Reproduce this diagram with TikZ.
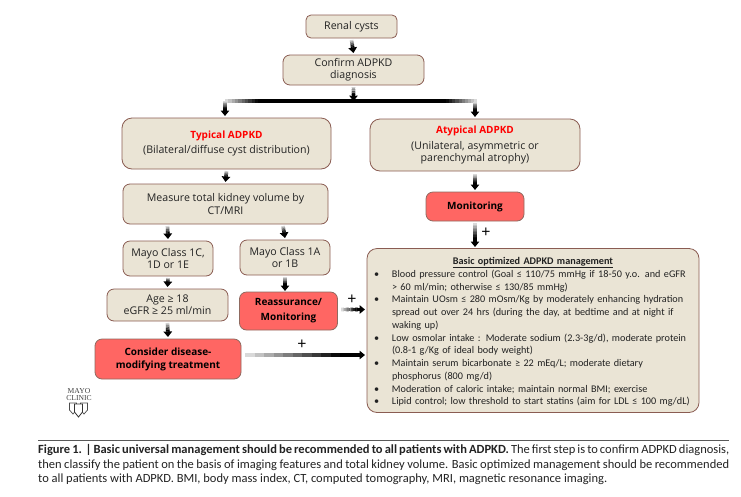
\documentclass[tikz,border=0pt]{standalone}
\usepackage{fontspec}
\usepackage{amssymb}
\usepackage{xcolor}
\usepackage{tikz}
\usetikzlibrary{arrows.meta,calc}
\setmainfont{Open Sans}
\newfontfamily\carlito{Carlito}
\newfontfamily\logofont{Liberation Serif}
\definecolor{boxfill}{HTML}{EAE4D5}
\definecolor{boxline}{HTML}{8A5C52}
\definecolor{redfill}{HTML}{FF6663}
\definecolor{redline}{HTML}{8F6A60}
\definecolor{inktext}{HTML}{222222}
\tikzset{
	box/.style={draw=boxline, fill=boxfill, line width=.8pt, rounded corners=7pt, align=center, inner sep=0pt, outer sep=2pt, text=inktext, font=\fontsize{10.6}{12.2}\selectfont},
	redbox/.style={box, draw=redline, fill=redfill, text=black, font=\fontsize{10}{13}\selectfont\bfseries},
	shaft/.style={line width=3.6pt},
	tip/.style={line width=3.6pt, black, -{Triangle[length=5.5pt,width=8.5pt]}},
	plus/.style={inner sep=0pt, font=\fontsize{16}{16}\selectfont}
}
\newcommand{\fadeline}[3]{
	\foreach \k in {0,...,11} {
		\pgfmathsetmacro{\inkval}{min(100,15+\k*#3)}
		\draw[shaft, black!\inkval] ($(#1)!{\k/12}!(#2)$) -- ($(#1)!{(\k+1.1)/12}!(#2)$);
	}
}
\newcommand{\fadearrow}[2]{
	\coordinate (neck) at ($(#2)!5.5pt!(#1)$);
	\fadeline{#1}{neck}{9}
	\draw[tip] (neck) -- (#2);
}

\begin{document}
\begin{tikzpicture}[x=1pt,y=-1pt]
		\useasboundingbox (0,0) rectangle (741,496);

		\node[box, minimum width=91pt, minimum height=23pt, rounded corners=5pt] (renal) at (351.5,26.5) {Renal cysts};
		\node[box, minimum width=141pt, minimum height=30pt] (confirm) at (353.5,70) {Confirm ADPKD\\diagnosis};
		\node[box, minimum width=209pt, minimum height=51pt, rounded corners=10pt] (typical) at (226.5,143.5) {\textcolor{red}{\fontsize{10}{12.2}\selectfont\textbf{Typical ADPKD}}\\[3pt](Bilateral/diffuse cyst distribution)};
		\node[box, minimum width=210pt, minimum height=52pt, rounded corners=10pt] (atypical) at (475,145) {\textcolor{red}{\fontsize{10}{12.2}\selectfont\textbf{Atypical ADPKD}}\\[3pt](Unilateral, asymmetric or\\parenchymal atrophy)};
		\node[box, minimum width=205pt, minimum height=40pt] (measure) at (225.5,204) {Measure total kidney volume by\\CT/MRI};
		\node[redbox, minimum width=98pt, minimum height=29pt] (monitoring) at (475,206.5) {Monitoring};
		\node[box, minimum width=90pt, minimum height=35pt] (classc) at (168,258.5) {Mayo Class 1C,\\1D or 1E};
		\node[box, minimum width=90pt, minimum height=35pt] (classa) at (285,257.5) {Mayo Class 1A\\or 1B};
		\node[box, minimum width=121pt, minimum height=32pt] (age) at (167.5,305) {Age ≥ 18\\eGFR ≥ 25 ml/min};
		\node[redbox, minimum width=98pt, minimum height=38pt] (reassure) at (288.5,311) {Reassurance/\\[2pt]Monitoring};
		\node[redbox, minimum width=146pt, minimum height=40pt] (consider) at (168,359) {Consider disease-\\modifying treatment};

		\node[box, minimum width=332pt, minimum height=164pt, rounded corners=10pt, align=left, text width=318pt, font=\carlito\fontsize{10.2}{12.75}\selectfont] (basic) at (533,330.5) {%
			\rule{0pt}{10pt}\makebox[318pt][c]{\textbf{\underline{Basic optimized ADPKD management}}}\\
			\makebox[18pt][l]{\textbullet}Blood pressure control (Goal ≤ 110/75 mmHg if 18-50 y.o. and eGFR\\
			\hspace*{18pt}> 60 ml/min; otherwise ≤ 130/85 mmHg)\\
			\makebox[18pt][l]{\textbullet}Maintain UOsm ≤ 280 mOsm/Kg by moderately enhancing hydration\\
			\hspace*{18pt}spread out over 24 hrs (during the day, at bedtime and at night if\\
			\hspace*{18pt}waking up)\\
			\makebox[18pt][l]{\textbullet}Low osmolar intake : Moderate sodium (2.3-3g/d), moderate protein\\
			\hspace*{18pt}(0.8-1 g/Kg of ideal body weight)\\
			\makebox[18pt][l]{\textbullet}Maintain serum bicarbonate ≥ 22 mEq/L; moderate dietary\\
			\hspace*{18pt}phosphorus (800 mg/d)\\
			\makebox[18pt][l]{\textbullet}Moderation of caloric intake; maintain normal BMI; exercise\\
			\makebox[18pt][l]{\textbullet}Lipid control; low threshold to start statins (aim for LDL ≤ 100 mg/dL)};

		\coordinate (busl) at (225,101);
		\coordinate (busa) at (265,101);
		\coordinate (busm) at (353.5,101);
		\coordinate (busb) at (440,101);
		\coordinate (busr) at (477,101);
		\coordinate (typin) at (225,116);
		\coordinate (atyup) at (475,102);
		\coordinate (atyin) at (475,117);
		\coordinate (atyout) at (475,174);
		\coordinate (meas1) at (167.5,226);
		\coordinate (meas2) at (283,226);
		\coordinate (claain) at (285,291);
		\coordinate (basin) at (475,247);
		\coordinate (reaout) at (341,309.5);
		\coordinate (reain) at (365,309.5);
		\coordinate (conout) at (245,355);
		\coordinate (conin) at (365,355);

		\fadearrow{renal.south}{confirm.north}
		\fadearrow{confirm.south}{busm}
		\fadeline{busl}{busa}{9}
		\fadeline{busr}{busb}{9}
		\draw[shaft, black] (busa) -- (busb);
		\fadearrow{busl}{typin}
		\fadearrow{atyup}{atyin}
		\fadearrow{atyout}{monitoring.north}
		\fadearrow{typical.south}{measure.north}
		\fadearrow{meas1}{classc.north}
		\fadearrow{meas2}{classa.north}
		\fadearrow{classc.south}{age.north}
		\fadearrow{age.south}{consider.north}
		\fadearrow{classa.south}{claain}
		\fadearrow{monitoring.south}{basin}
		\fadearrow{reaout}{reain}
		\fadearrow{conout}{conin}

		\node[plus] (plusm) at (486,233) {+};
		\node[plus] (plusr) at (352,300) {+};
		\node[plus] (plusc) at (302,345) {+};

		% logo
		\node[inner sep=0pt, align=center, text=black!75, font=\logofont\fontsize{7.6}{7}\selectfont] (logo) at (79,394.5) {MAYO\\CLINIC};
		\foreach \sx in {73,84} {
			\draw[line width=.7pt, black!70] (\sx-3.5,403) -- (\sx+3.5,403) -- (\sx+3.5,410) -- (\sx,414) -- (\sx-3.5,410) -- cycle;
		}
		\draw[line width=.8pt, black!80, fill=white] (74.5,404) -- (82.5,404) -- (82.5,412) -- (78.5,417) -- (74.5,412) -- cycle;

		% caption
		\draw[line width=.8pt, black!65] (38,440) -- (729,440);
		\node[anchor=north west, inner sep=0pt, text width=691pt, align=justify, text=inktext, font=\carlito\fontsize{12.5}{14.5}\selectfont] (caption) at (38,444.5) {\textbf{Figure 1. | Basic universal management should be recommended to all patients with ADPKD.} The first step is to confirm ADPKD diagnosis, then classify the patient on the basis of imaging features and total kidney volume. Basic optimized management should be recommended to all patients with ADPKD. BMI, body mass index, CT, computed tomography, MRI, magnetic resonance imaging.};
\end{tikzpicture}
\end{document}
